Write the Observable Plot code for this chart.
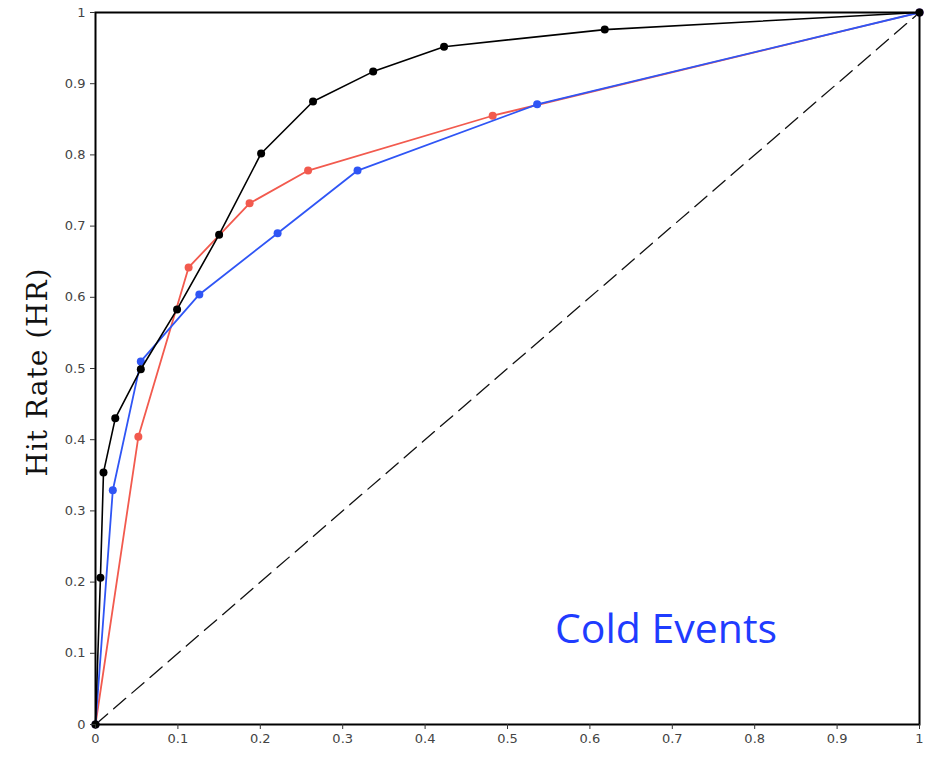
<!DOCTYPE html>
<html>
<head>
<meta charset="utf-8">
<script src="https://cdn.jsdelivr.net/npm/d3@7"></script>
<script src="https://cdn.jsdelivr.net/npm/@observablehq/plot@0.6"></script>
<style>
  body { margin: 0; background: #fff; }
  #chart { position: relative; width: 930px; height: 760px; }
</style>
</head>
<body>
<div id="chart"></div>
<script>
// False alarm rate (x) and hit rate (y) for each series
const blackFAR = [0, 0.006, 0.0097, 0.024, 0.055, 0.099, 0.150, 0.201, 0.264, 0.337, 0.423, 0.618, 1];
const blackHR  = [0, 0.206, 0.354, 0.430, 0.499, 0.583, 0.688, 0.802, 0.875, 0.917, 0.952, 0.976, 1];
const redFAR   = [0, 0.052, 0.113, 0.187, 0.258, 0.482, 1];
const redHR    = [0, 0.404, 0.642, 0.732, 0.778, 0.855, 1];
const blueFAR  = [0, 0.021, 0.055, 0.126, 0.221, 0.318, 0.536, 1];
const blueHR   = [0, 0.329, 0.510, 0.604, 0.690, 0.778, 0.871, 1];
const ticks = [0, 0.1, 0.2, 0.3, 0.4, 0.5, 0.6, 0.7, 0.8, 0.9, 1];
const tickLabels = ["0", "0.1", "0.2", "0.3", "0.4", "0.5", "0.6", "0.7", "0.8", "0.9", "1"];
const diagonal = [0, 1];
const yLabel = "Hit Rate (HR)";
const annotation = "Cold Events";
const annotationPos = {x: 0.5576, y: 0.1138};

const toRows = (xs, ys) => xs.map((x, i) => ({x, y: ys[i]}));
const black = toRows(blackFAR, blackHR);
const red = toRows(redFAR, redHR);
const blue = toRows(blueFAR, blueHR);
const diag = diagonal.map(v => ({x: v, y: v}));
const fmt = d => tickLabels[ticks.indexOf(d)] ?? String(d);

const RED = "#f25a4e", BLUE = "#2f55f5", TEXTBLUE = "#1f3cff";

const plot = Plot.plot({
  width: 930,
  height: 760,
  marginLeft: 95,
  marginRight: 11,
  marginTop: 12,
  marginBottom: 36,
  style: {fontFamily: "DejaVu Sans", fontSize: "12.5px", color: "#333", background: "#fff"},
  x: {domain: [0, 1], label: null},
  y: {domain: [0, 1], label: null},
  marks: [
    Plot.line(diag, {x: "x", y: "y", stroke: "#111", strokeWidth: 1.3, strokeDasharray: "16,8"}),
    Plot.line(red, {x: "x", y: "y", stroke: RED, strokeWidth: 1.8}),
    Plot.dot(red, {x: "x", y: "y", r: 4, fill: RED}),
    Plot.line(blue, {x: "x", y: "y", stroke: BLUE, strokeWidth: 1.8}),
    Plot.dot(blue, {x: "x", y: "y", r: 4, fill: BLUE}),
    Plot.line(black, {x: "x", y: "y", stroke: "#000", strokeWidth: 1.6}),
    Plot.dot(black, {x: "x", y: "y", r: 4, fill: "#000"}),
    Plot.frame({stroke: "#000", strokeWidth: 2}),
    Plot.axisX({ticks: ticks, tickFormat: fmt, tickSize: 5, tickPadding: 4, label: null, fontSize: 13, fill: "#444"}),
    Plot.axisY({ticks: ticks, tickFormat: fmt, tickSize: 5, tickPadding: 5, label: null, fontSize: 13, fill: "#444"}),
    Plot.text([annotation], {x: () => annotationPos.x, y: () => annotationPos.y, text: d => d,
      fill: TEXTBLUE, fontSize: 41, fontFamily: "Open Sans", textAnchor: "start", lineAnchor: "bottom"})
  ]
});
document.getElementById("chart").appendChild(plot);

// Rotated y-axis title
const svg = d3.select(plot);
svg.append("text")
  .attr("transform", "translate(47,372) rotate(-90)")
  .attr("text-anchor", "middle")
  .attr("font-family", "DejaVu Serif")
  .attr("font-size", 28)
  .attr("letter-spacing", 1)
  .attr("fill", "#111")
  .text(yLabel);
</script>
</body>
</html>
